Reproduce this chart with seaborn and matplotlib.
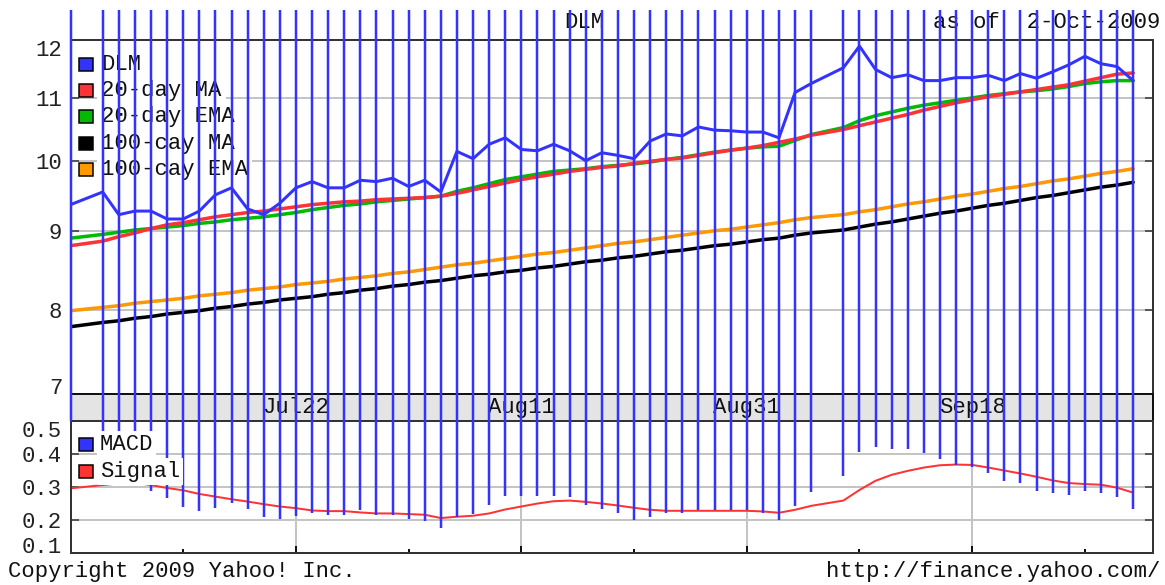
import numpy as np
import pandas as pd
import matplotlib
matplotlib.use("Agg")
import matplotlib.pyplot as plt
import matplotlib.transforms as mtransforms
from matplotlib.patches import Rectangle
from matplotlib.ticker import FixedLocator, NullLocator
import seaborn as sns

# 取引日（平日のみ、7/3 と 9/7 は休場）
holidays = ["2009-07-03", "2009-09-07"]
dates = pd.bdate_range("2009-07-02", "2009-10-02")
dates = dates[~dates.isin(pd.to_datetime(holidays))]

dlm = [9.37, 9.55, 9.23, 9.28, 9.28, 9.17, 9.17, 9.28, 9.51, 9.61, 9.31, 9.23,
       9.39, 9.61, 9.70, 9.61, 9.61, 9.72, 9.70, 9.75, 9.63, 9.72, 9.55,
       10.15, 10.04, 10.26, 10.36, 10.18, 10.16, 10.26, 10.16, 10.01, 10.13,
       10.09, 10.04, 10.31, 10.42, 10.39, 10.53, 10.48, 10.47, 10.45, 10.45,
       10.36, 11.09, 11.24,
       11.51, 11.89, 11.48, 11.34, 11.39, 11.29, 11.29, 11.34, 11.34, 11.38,
       11.29, 11.41, 11.33, 11.44, 11.56, 11.71, 11.58, 11.53, 11.29]
ma20 = [8.81, 8.87, 8.93, 8.98, 9.04, 9.09, 9.12, 9.16, 9.20, 9.23, 9.26, 9.28,
        9.31, 9.34, 9.37, 9.39, 9.41, 9.42, 9.44, 9.45, 9.46, 9.47, 9.49,
        9.53, 9.58, 9.63, 9.68, 9.73, 9.77, 9.81, 9.85, 9.88, 9.91, 9.93, 9.97,
        10.00, 10.03, 10.05, 10.09, 10.13, 10.17, 10.20, 10.24, 10.29, 10.34,
        10.40,
        10.49, 10.55, 10.61, 10.67, 10.73, 10.80, 10.86, 10.92, 10.97, 11.02,
        11.06, 11.10, 11.14, 11.18, 11.22, 11.28, 11.34, 11.40, 11.42]
ema20 = [8.91, 8.96, 8.99, 9.02, 9.04, 9.06, 9.08, 9.11, 9.13, 9.16, 9.18, 9.20,
         9.23, 9.26, 9.30, 9.33, 9.36, 9.38, 9.41, 9.43, 9.45, 9.47, 9.49,
         9.56, 9.61, 9.67, 9.73, 9.77, 9.81, 9.85, 9.87, 9.89, 9.92, 9.94, 9.96,
         9.99, 10.03, 10.06, 10.10, 10.14, 10.17, 10.20, 10.22, 10.23, 10.32,
         10.41,
         10.52, 10.63, 10.71, 10.77, 10.83, 10.88, 10.92, 10.96, 11.00, 11.04,
         11.07, 11.10, 11.12, 11.15, 11.19, 11.24, 11.27, 11.29, 11.29]
ma100 = [7.80, 7.85, 7.87, 7.90, 7.92, 7.95, 7.97, 7.99, 8.02, 8.04, 8.07, 8.09,
         8.12, 8.14, 8.16, 8.19, 8.21, 8.24, 8.26, 8.29, 8.31, 8.34, 8.36,
         8.39, 8.42, 8.44, 8.47, 8.49, 8.52, 8.54, 8.57, 8.60, 8.62, 8.65, 8.67,
         8.70, 8.73, 8.75, 8.78, 8.81, 8.83, 8.86, 8.89, 8.91, 8.95, 8.98,
         9.02, 9.06, 9.10, 9.13, 9.17, 9.21, 9.25, 9.28, 9.32, 9.36, 9.39, 9.43,
         9.47, 9.50, 9.54, 9.58, 9.62, 9.65, 9.69]
ema100 = [7.99, 8.03, 8.05, 8.08, 8.10, 8.12, 8.14, 8.17, 8.19, 8.21, 8.24, 8.26,
          8.28, 8.31, 8.33, 8.35, 8.38, 8.40, 8.42, 8.45, 8.47, 8.50, 8.53,
          8.56, 8.58, 8.61, 8.64, 8.67, 8.70, 8.72, 8.75, 8.78, 8.81, 8.84, 8.86,
          8.89, 8.92, 8.95, 8.98, 9.01, 9.03, 9.06, 9.09, 9.12, 9.16, 9.19,
          9.23, 9.27, 9.30, 9.34, 9.38, 9.41, 9.45, 9.49, 9.52, 9.56, 9.60, 9.63,
          9.67, 9.71, 9.74, 9.78, 9.82, 9.85, 9.89]
macd = [0.50, 0.38, 0.38, 0.38, 0.287, 0.265, 0.239, 0.227, 0.236, 0.250, 0.232,
        0.209, 0.201, 0.210, 0.219, 0.214, 0.214, 0.229, 0.214, 0.214, 0.201,
        0.196, 0.176,
        0.209, 0.217, 0.245, 0.273, 0.273, 0.273, 0.273, 0.269, 0.245, 0.231,
        0.219, 0.199, 0.209, 0.219, 0.219, 0.229, 0.229, 0.229, 0.229, 0.219,
        0.199, 0.241, 0.285,
        0.333, 0.406, 0.419, 0.413, 0.413, 0.401, 0.383, 0.366, 0.360, 0.341,
        0.317, 0.310, 0.287, 0.280, 0.274, 0.288, 0.280, 0.268, 0.231]
signal = [0.295, 0.305, 0.310, 0.312, 0.305, 0.296, 0.289, 0.278, 0.270, 0.262,
          0.255, 0.247, 0.240, 0.235, 0.228, 0.226, 0.226, 0.222, 0.219, 0.219,
          0.217, 0.215, 0.205,
          0.209, 0.212, 0.219, 0.231, 0.240, 0.249, 0.256, 0.258, 0.254, 0.249,
          0.243, 0.236, 0.230, 0.227, 0.227, 0.227, 0.227, 0.227, 0.227, 0.225,
          0.221, 0.230, 0.242,
          0.258, 0.290, 0.318, 0.336, 0.348, 0.358, 0.365, 0.367, 0.366, 0.358,
          0.349, 0.340, 0.330, 0.319, 0.311, 0.308, 0.306, 0.297, 0.282]

label_dates = ["2009-07-22", "2009-08-11", "2009-08-31", "2009-09-18"]
label_text = ["Jul22", "Aug11", "Aug31", "Sep18"]
main_ticks = [7.05, 8, 9, 10, 11, 12]
main_tick_labels = ["7", "8", "9", "10", "11", "12"]
macd_ticks = [0.1, 0.2, 0.3, 0.4, 0.5]
legend_main = ["DLM", "20-day MA", "20-day EMA", "100-cay MA", "100-cay EMA"]
legend_macd = ["MACD", "Signal"]

C_BLUE = "#3333ff"
C_RED = "#ff3333"
C_GREEN = "#00bb00"
C_ORANGE = "#ff9900"
C_GRID = "#c4c4c4"
C_SPINE = "#333333"
PX = 0.72  # 1px を pt に

sns.set_style("white")
plt.rcParams["font.family"] = ["Liberation Mono", "DejaVu Sans Mono"]
plt.rcParams["font.size"] = 16

# 平日ベースの x 座標
start = np.datetime64("2009-07-02")
day = np.busday_count(start, dates.values.astype("datetime64[D]"))
label_x = np.busday_count(start, np.array(label_dates, dtype="datetime64[D]"))

df = pd.DataFrame({"day": day, "dlm": dlm, "ma20": ma20, "ema20": ema20,
                   "ma100": ma100, "ema100": ema100, "macd": macd, "signal": signal})

W, H = 1165, 585
fig = plt.figure(figsize=(W / 100, H / 100), dpi=100)
fig.patch.set_facecolor("white")
px_tr = mtransforms.Affine2D().scale(1 / W, -1 / H).translate(0, 1) + fig.transFigure


def box(left, top, right, bottom):
    return [left / W, 1 - bottom / H, (right - left) / W, (bottom - top) / H]


XMAX = 67.2
ax = fig.add_axes(box(70.5, 40, 1152.5, 394))
ax_band = fig.add_axes(box(70.5, 394, 1152.5, 420.7))
ax_m = fig.add_axes(box(70.5, 420.7, 1152.5, 552.7))

# --- 価格パネル ---
for col, color, lw in [("ma100", "#000000", 3.5), ("ema100", C_ORANGE, 3.5),
                       ("ema20", C_GREEN, 3.5), ("ma20", C_RED, 3.5), ("dlm", C_BLUE, 3)]:
    sns.lineplot(data=df, x="day", y=col, ax=ax, color=color, linewidth=lw * PX,
                 legend=False, zorder=2)
ax.set_yscale("log")
ax.set_ylim(main_ticks[0], main_ticks[-1])
ax.set_xlim(0, XMAX)
ax.yaxis.set_major_locator(FixedLocator(main_ticks))
ax.yaxis.set_minor_locator(NullLocator())
ax.set_yticklabels(main_tick_labels)
ax.set_xticks([])
ax.set_xlabel("")
ax.set_ylabel("")
ax.grid(axis="y", color=C_GRID, linewidth=2 * PX)
ax.set_axisbelow(True)
ax.tick_params(axis="y", direction="in", left=True, right=True, length=6,
               width=1.5 * PX, color=C_SPINE, pad=6, labelcolor="#222222")
ticks = ax.yaxis.get_major_ticks()
ticks[0].label1.set_va("baseline")
ticks[-1].label1.set_va("top")
for s in ax.spines.values():
    s.set_color(C_SPINE)
    s.set_linewidth(2 * PX)

main_colors = [C_BLUE, C_RED, C_GREEN, "#000000", C_ORANGE]
for i, (name, color) in enumerate(zip(legend_main, main_colors)):
    yc = 64.5 + i * 26.2
    ax.add_patch(Rectangle((79, yc - 6.5), 14, 13, transform=px_tr, facecolor=color,
                           edgecolor="black", linewidth=1.5 * PX, zorder=5, clip_on=False))
    ax.text(101, yc, name, transform=px_tr, ha="left", va="center", color="#111111",
            zorder=4, bbox=dict(facecolor="white", edgecolor="none", pad=3))

# --- 日付帯 ---
ax_band.set_facecolor("#e4e4e4")
ax_band.set_xlim(0, XMAX)
ax_band.set_ylim(0, 1)
ax_band.set_xticks([])
ax_band.set_yticks([])
for s in ax_band.spines.values():
    s.set_color("#111111")
    s.set_linewidth(2 * PX)
for lx, lt in zip(label_x, label_text):
    ax_band.text(lx, 0.5, lt, ha="center", va="center", color="#111111")

# --- MACD パネル ---
sns.lineplot(data=df, x="day", y="signal", ax=ax_m, color=C_RED, linewidth=2 * PX,
             legend=False, zorder=2)
ax_m.set_ylim(macd_ticks[0], macd_ticks[-1])
ax_m.set_xlim(0, XMAX)
ax_m.set_yticks(macd_ticks)
ax_m.set_yticklabels([f"{v:.1f}" for v in macd_ticks])
ax_m.set_xticks(label_x)
ax_m.set_xticks(label_x[0] + 7 + 14 * np.arange(-1, 4), minor=True)
ax_m.set_xlabel("")
ax_m.set_ylabel("")
ax_m.grid(which="major", color=C_GRID, linewidth=2 * PX)
ax_m.set_axisbelow(True)
ax_m.tick_params(axis="y", direction="in", left=True, right=True, length=6,
                 width=1.5 * PX, color=C_SPINE, pad=6, labelcolor="#222222")
ax_m.tick_params(axis="x", which="major", direction="in", bottom=True, top=False,
                 length=5, width=2 * PX, color="#111111", labelbottom=False)
ax_m.tick_params(axis="x", which="minor", direction="in", bottom=True, top=False,
                 length=3, width=2 * PX, color="#111111")
mt = ax_m.yaxis.get_major_ticks()
mt[0].label1.set_va("baseline")
mt[-1].label1.set_va("top")
for s in ax_m.spines.values():
    s.set_color(C_SPINE)
    s.set_linewidth(2 * PX)

# MACD の縦線（図の上端近くから値まで）
top_val = ax_m.transData.inverted().transform(
    fig.transFigure.transform((0, 1 - 10 / H)))[1]
ax_m.vlines(df["day"], df["macd"], top_val, colors=C_BLUE, linewidth=2.5 * PX,
            clip_on=False, zorder=3)

for i, (name, color) in enumerate(zip(legend_macd, [C_BLUE, C_RED])):
    yc = 444.5 + i * 27
    ax_m.add_patch(Rectangle((79, yc - 6.5), 14, 13, transform=px_tr, facecolor=color,
                             edgecolor="black", linewidth=1.5 * PX, zorder=7, clip_on=False))
    ax_m.text(100, yc, name, transform=px_tr, ha="left", va="center", color="#111111",
              zorder=6, bbox=dict(facecolor="white", edgecolor="none", pad=2))

# ヘッダーとフッター（縦線の下に描く）
fig.text(584 / W, 1 - 22 / H, "DLM", ha="center", va="center", color="#111111", zorder=-1)
fig.text(1160 / W, 1 - 22 / H, "as of  2-Oct-2009", ha="right", va="center",
         color="#111111", zorder=-1)
fig.text(8 / W, 1 - 571 / H, "Copyright 2009 Yahoo! Inc.", ha="left", va="center",
         color="#111111")
fig.text(1160 / W, 1 - 571 / H, "http://finance.yahoo.com/", ha="right", va="center",
         color="#111111")

fig.savefig("out.png", dpi=100, facecolor="white")
plt.close(fig)
